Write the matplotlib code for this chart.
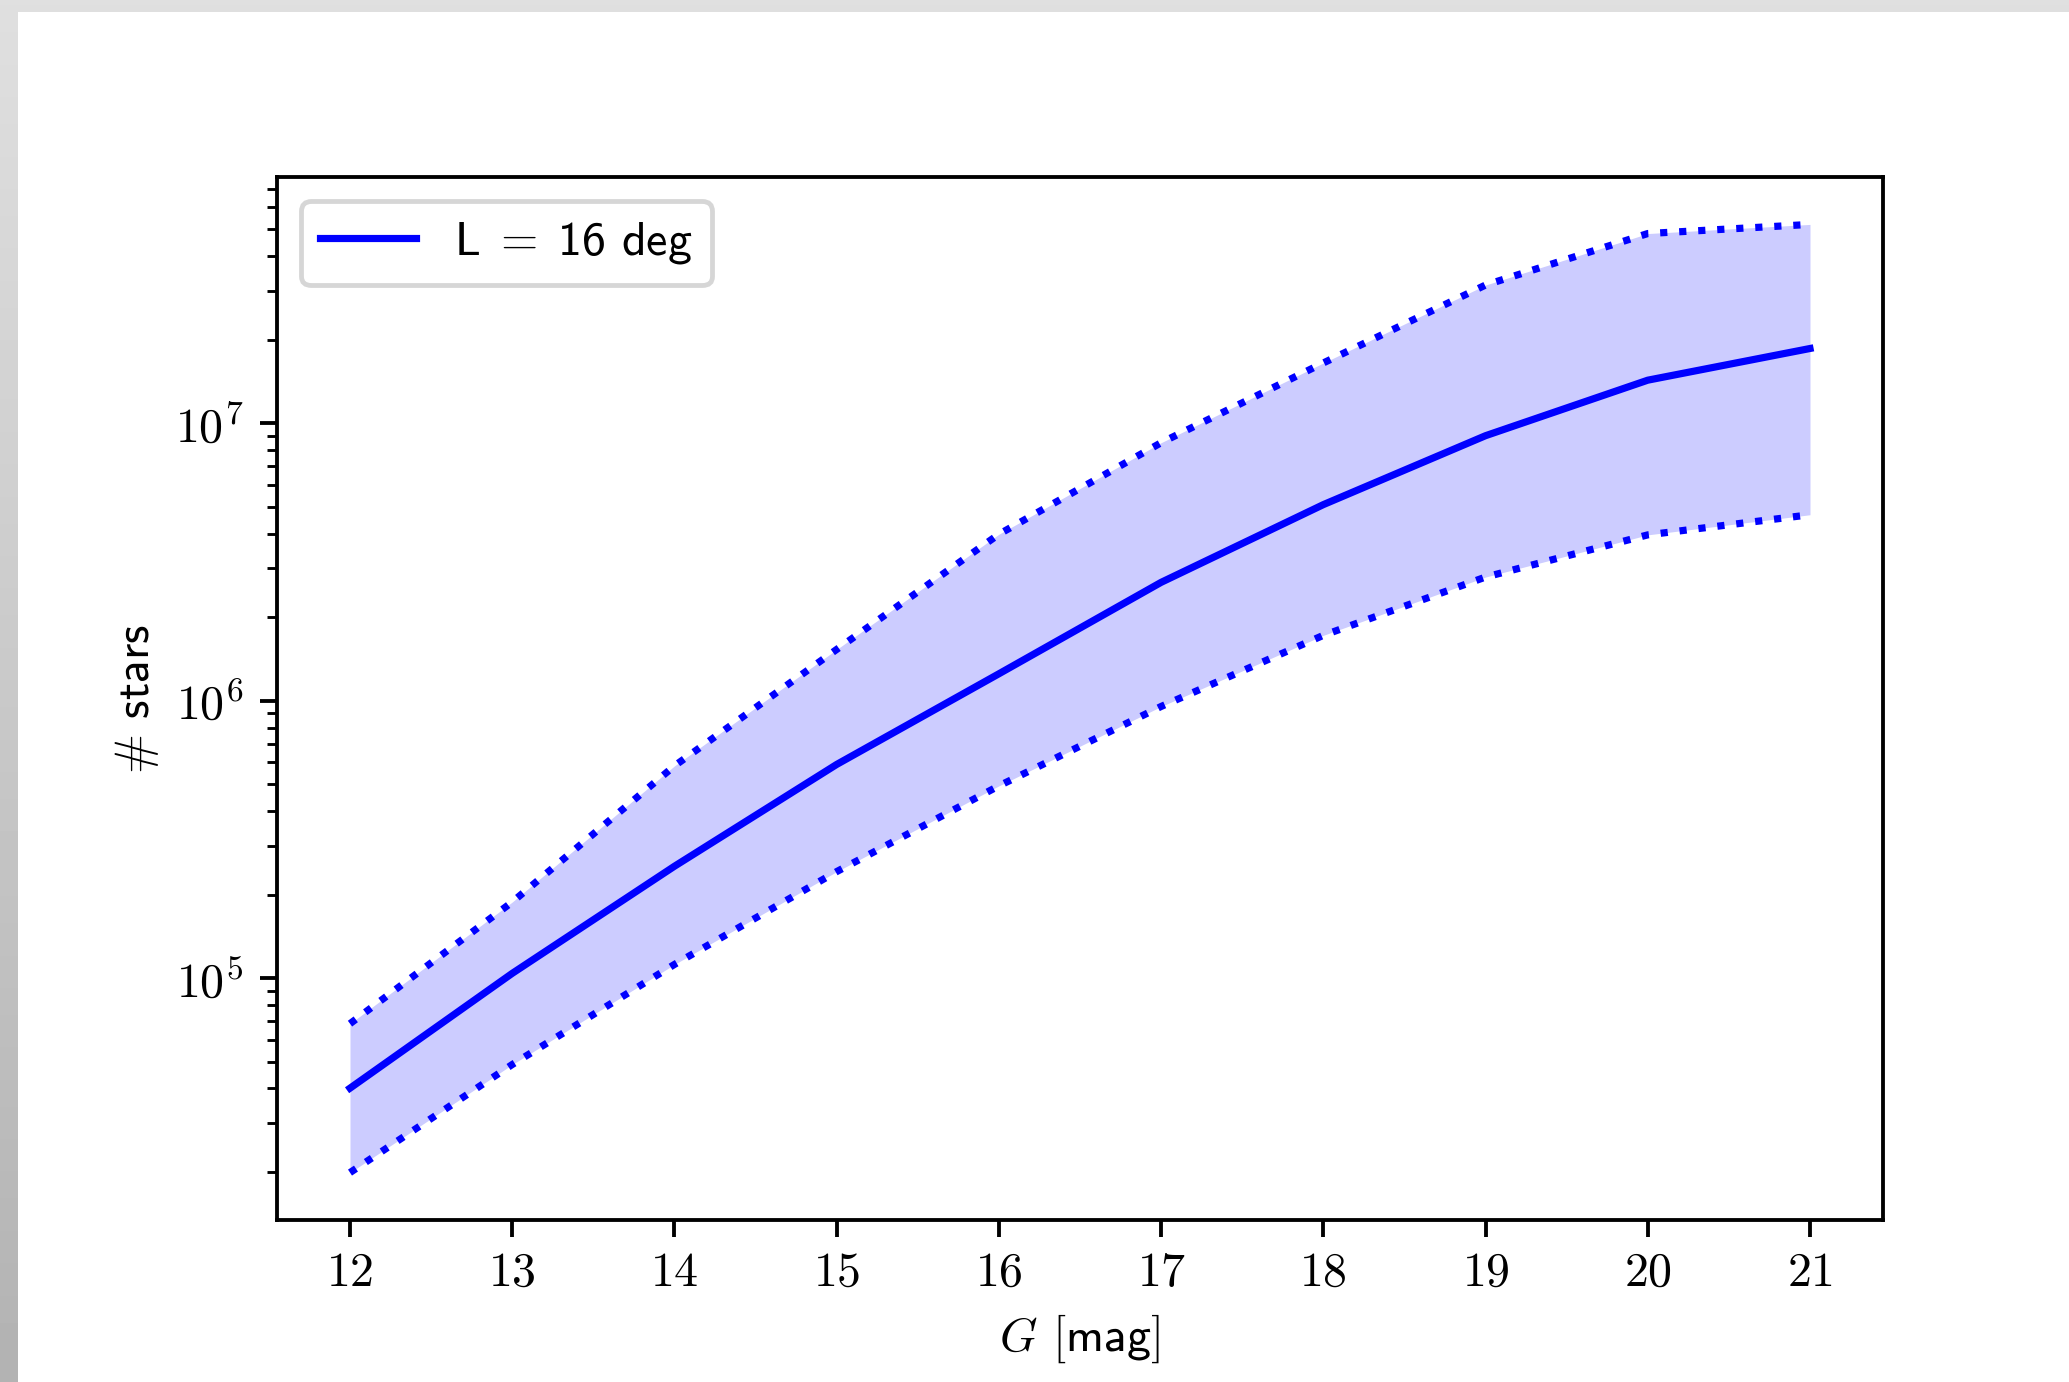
#!/usr/bin/env python3
"""Star counts vs G magnitude for the L = 16 deg field, with min/max envelope."""

import numpy as np
import matplotlib
matplotlib.use('Agg')
import matplotlib.pyplot as plt
from matplotlib.patches import Rectangle
from matplotlib.ticker import FuncFormatter, NullFormatter

matplotlib.rcParams['mathtext.fontset'] = 'cm'
matplotlib.rcParams['font.size'] = 10

W, H, DPI = 2069, 1382, 345
SANS = 'cmss10'

# --- data ---
mag = [12, 13, 14, 15, 16, 17, 18, 19, 20, 21]
n_mean = [4.01e4, 1.04e5, 2.53e5, 5.89e5, 1.25e6, 2.67e6, 5.09e6, 9.02e6, 1.43e7, 1.86e7]
n_upper = [6.85e4, 1.88e5, 5.82e5, 1.53e6, 3.98e6, 8.51e6, 1.65e7, 3.15e7, 4.83e7, 5.21e7]
n_lower = [1.99e4, 4.88e4, 1.12e5, 2.42e5, 4.93e5, 9.53e5, 1.72e6, 2.79e6, 3.96e6, 4.68e6]

fig = plt.figure(figsize=(W / DPI, H / DPI), dpi=DPI)

# grey frame strip along top and left edges (light at top, darker at bottom)
bg = fig.add_axes([0, 0, 1, 1], zorder=-10)
bg.axis('off')
grad = np.linspace(0.875, 0.70, 256).reshape(-1, 1)
bg.imshow(grad, cmap='gray', vmin=0, vmax=1, aspect='auto', extent=[0, 1, 0, 1])
bg.add_patch(Rectangle((18 / W, 0), 1, 1 - 12 / H, color='white', lw=0))
bg.set_xlim(0, 1)
bg.set_ylim(0, 1)

ax = fig.add_axes([277 / W, 1 - 1220 / H, (1883 - 277) / W, (1220 - 177) / H])

ax.fill_between(mag, n_lower, n_upper, color='blue', alpha=0.2, lw=0)
ax.plot(mag, n_mean, '-', color='blue', lw=1.5, label=r'L$\;=\;$16 deg')
ax.plot(mag, n_upper, ':', color='blue', lw=1.5)
ax.plot(mag, n_lower, ':', color='blue', lw=1.5)

ax.set_yscale('log')
ax.set_xticks(mag)
ax.xaxis.set_major_formatter(FuncFormatter(lambda v, p: r'$%d$' % round(v)))
ax.yaxis.set_major_formatter(FuncFormatter(lambda v, p: r'$10^{%d}$' % round(np.log10(v))))
ax.yaxis.set_minor_formatter(NullFormatter())
ax.tick_params(axis='x', pad=2.5)

ax.set_xlabel(r'$G$ $[$mag$]$', family=SANS, labelpad=3.5)
ax.set_ylabel(r'$\#$ stars', family=SANS, labelpad=3)
ax.legend(loc='upper left', prop={'family': SANS, 'size': 10})

plt.savefig('out.png', dpi=DPI)
plt.close()
